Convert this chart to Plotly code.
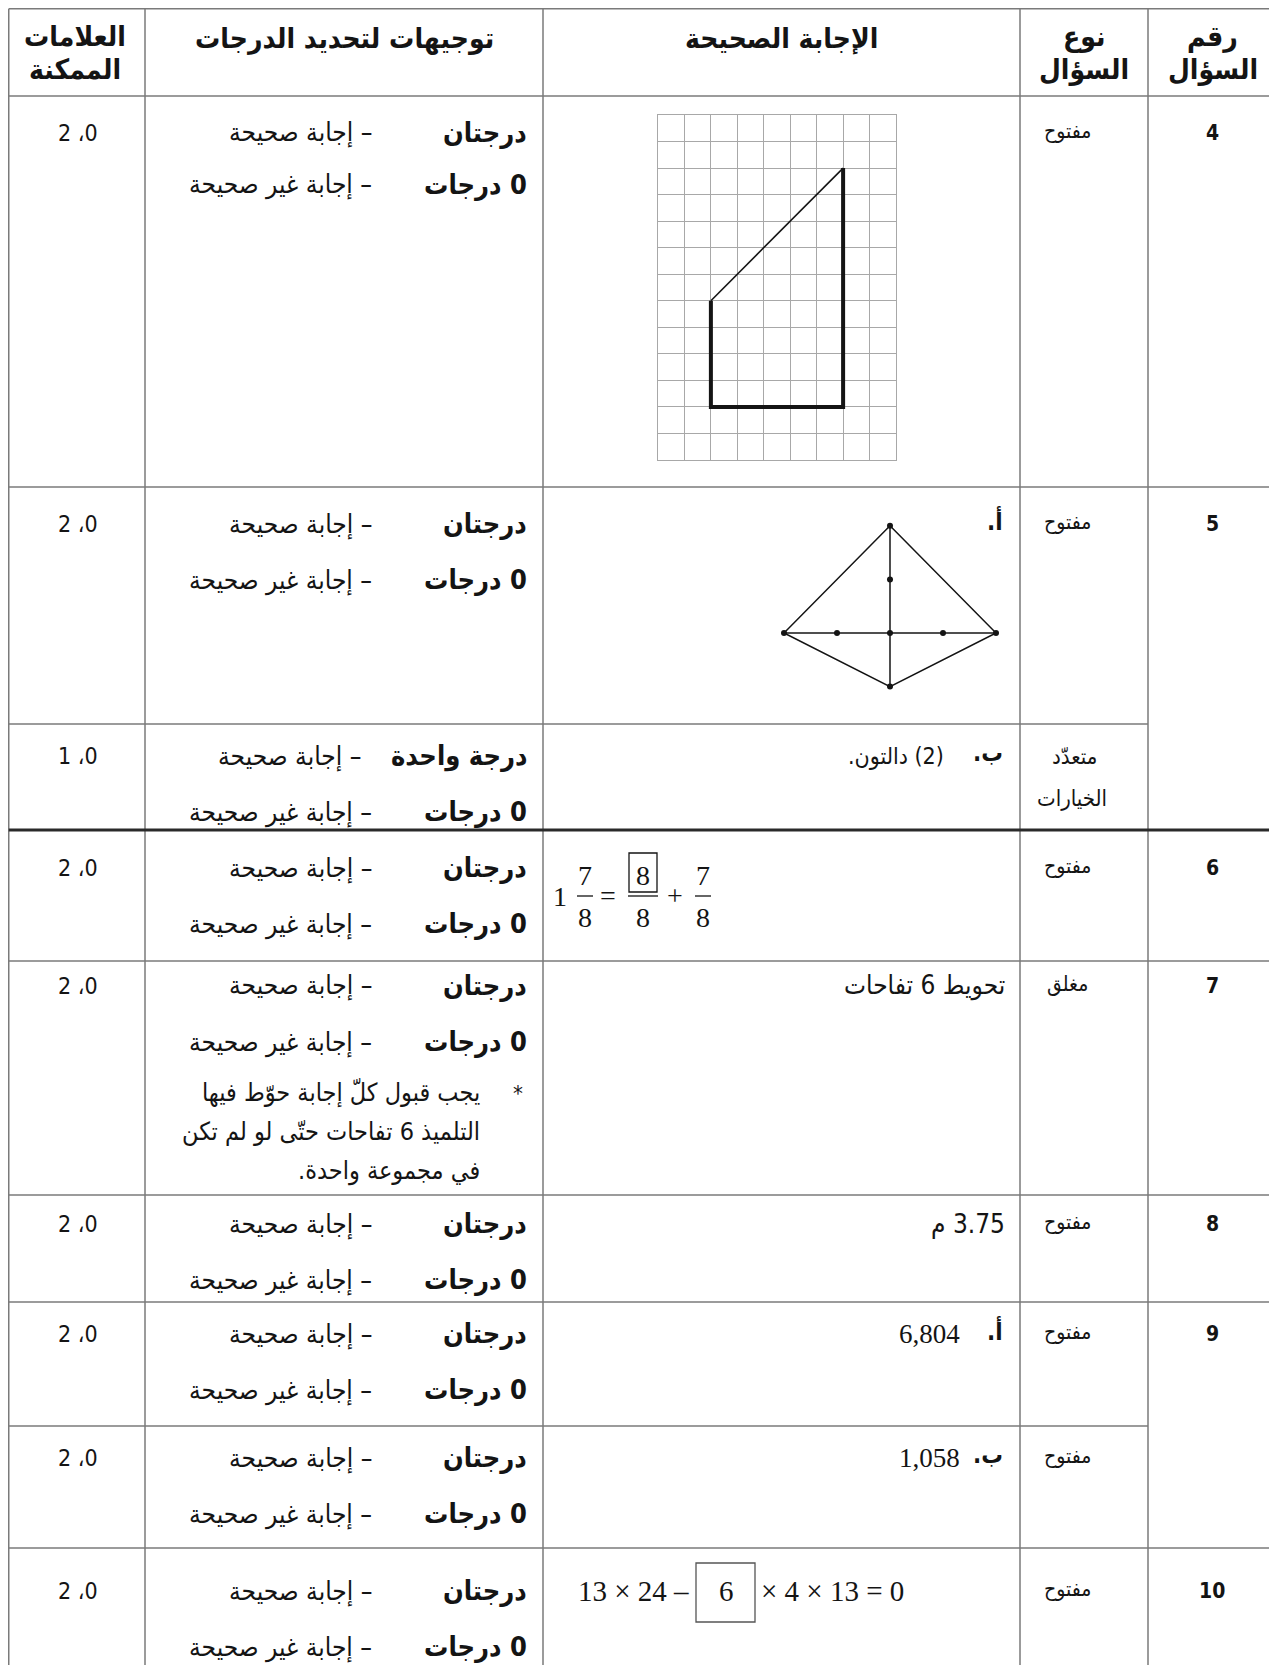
import plotly.graph_objects as go

# page is 1277x1665; the html body keeps its default 8px margin
PAGE_W, PAGE_H = 1277, 1665
OFF = 8
W, H = PAGE_W - OFF, PAGE_H - OFF

# ---- table content ----
headers = ["العلامات\nالممكنة", "توجيهات لتحديد الدرجات", "الإجابة الصحيحة", "نوع\nالسؤال", "رقم\nالسؤال"]

question_numbers = ["4", "5", "", "6", "7", "8", "9", "", "10"]
question_types = ["مفتوح", "مفتوح", "متعدّد\nالخيارات", "مفتوح", "مغلق", "مفتوح", "مفتوح", "مفتوح", "مفتوح"]
possible_marks = ["0، 2", "0، 2", "0، 1", "0، 2", "0، 2", "0، 2", "0، 2", "0، 2", "0، 2"]
full_credit = ["درجتان", "درجتان", "درجة واحدة", "درجتان", "درجتان", "درجتان", "درجتان", "درجتان", "درجتان"]
zero_credit = "0 درجات"
correct_text = "– إجابة صحيحة"
wrong_text = "– إجابة غير صحيحة"
note_lines = ["يجب قبول كلّ إجابة حوّط فيها", "التلميذ 6 تفاحات حتّى لو لم تكن", "في مجموعة واحدة."]

answer_parts = ["", "أ.", "ب.", "", "", "", "أ.", "ب.", ""]
answer_texts = ["", "", "(2) دالتون.", "", "تحويط 6 تفاحات", "3.75 م", "", "", ""]
answer_numbers = ["", "", "", "", "", "", "6,804", "1,058", ""]

# question 4 drawing (grid units)
grid_cols, grid_rows = 9, 13
shape_x = [2, 7, 7, 2]
shape_y = [6, 11, 2, 2]

# question 5a kite (grid units)
kite_x = [0, 2, 0, -2]
kite_y = [2, 0, -1, 0]
point_x = [0, 0, -2, -1, 0, 1, 2, 0]
point_y = [2, 1, 0, 0, 0, 0, 0, -1]

# question 6 equation
mixed_whole = "1"
numerators = ["7", "8", "7"]
denominators = ["8", "8", "8"]
operators = ["=", "+"]

# question 10 equation
eq10_left = "13 × 24 –"
eq10_box = "6"
eq10_right = "× 4 × 13 = 0"

# ---- layout constants (page pixels) ----
col_edges = [5, 145, 543, 1020, 1148, 1277]
row_edges = [5, 96, 487, 724, 830, 961, 1195, 1302, 1426, 1548, 1665]
text_y1 = [133, 524, 756, 868, 986, 1224, 1334, 1458, 1591]
text_y2 = [185, 580, 812, 924, 1042, 1280, 1390, 1514, 1647]

AR = "DejaVu Sans Condensed"
SERIF = "Liberation Serif"
INK = "#141414"
LINE = "#7a7a7a"
GRID = "#a8a8a8"
RLE, PDF = "\u202b", "\u202c"


def px(x):
    return max(x - OFF, 0.75) / W


def py(y):
    return 1 - max(y - OFF, 0.75) / H


fig = go.Figure()


def line(x0, y0, x1, y1, width=1.5, color=LINE):
    fig.add_shape(type="line", xref="paper", yref="paper",
                  x0=px(x0), y0=py(y0), x1=px(x1), y1=py(y1),
                  line=dict(color=color, width=width))


def text(x, y, s, size=20, bold=False, anchor="right", family=AR, rtl=True):
    s = RLE + s + PDF if rtl else s
    if bold:
        s = "<b>" + s + "</b>"
    fig.add_annotation(x=px(x), y=py(y), xref="paper", yref="paper", text=s,
                       showarrow=False, xanchor=anchor, yanchor="middle",
                       font=dict(family=family, size=size, color=INK))


# ---- table rules ----
for x in col_edges[:-1]:
    line(x, row_edges[0], x, PAGE_H)
for k, y in enumerate(row_edges[:-1]):
    # a rule above a continuation sub-row stops before the question-number column
    x_end = col_edges[4] if k >= 2 and question_numbers[k - 1] == "" else PAGE_W
    if k == 4:
        line(0, y, PAGE_W, y, 3, "#2a2a2a")
    else:
        line(col_edges[0], y, x_end, y)

# ---- header ----
centers = [(col_edges[i] + col_edges[i + 1]) / 2 for i in range(5)]
for c, h in zip(centers, headers):
    parts = h.split("\n")
    ys = [36, 70] if len(parts) == 2 else [38]
    for p, yy in zip(parts, ys):
        text(c, yy, p, size=28, bold=True, anchor="center")

# ---- body rows ----
for i in range(len(text_y1)):
    y1 = text_y1[i]
    y2 = text_y2[i]
    text(78, y1, possible_marks[i], size=23, anchor="center")
    text(529, y1, full_credit[i], size=27, bold=True)
    text(529, y2, zero_credit, size=27, bold=True)
    desc_x = 363 if full_credit[i] != "درجتان" else 374
    text(desc_x, y1, correct_text, size=26)
    text(374, y2, wrong_text, size=26)

    qt = question_types[i].split("\n")
    if len(qt) == 1:
        text(1067, y1 - 2, qt[0], size=21, anchor="center")
    else:
        text(1074, y1, qt[0], size=22, anchor="center")
        text(1072, y1 + 42, qt[1], size=22, anchor="center")
    if question_numbers[i]:
        text(1212, y1, question_numbers[i], size=21, bold=True, anchor="center", rtl=False)

    if answer_parts[i]:
        text(1005, y1 - 3, answer_parts[i], size=24, bold=True)
    if answer_texts[i]:
        if answer_parts[i]:
            text(946, y1, answer_texts[i], size=23)
        else:
            text(1007, y1, answer_texts[i], size=26)
    if answer_numbers[i]:
        text(962, y1, answer_numbers[i], size=27, anchor="right", family=SERIF, rtl=False)

# note of question 7
text(525, 1093, "*", size=22, rtl=False)
for k, s in enumerate(note_lines):
    text(482, 1093 + 39 * k, s, size=25)

# ---- question 6 equation ----
eq_y = 896
text(560, eq_y + 1, mixed_whole, size=28, anchor="center", family=SERIF, rtl=False)
frac_x = [585, 643, 703]
bar_half = [8, 15, 8]
for fx, hw, n, d in zip(frac_x, bar_half, numerators, denominators):
    text(fx, eq_y - 21, n, size=28, anchor="center", family=SERIF, rtl=False)
    text(fx, eq_y + 21, d, size=28, anchor="center", family=SERIF, rtl=False)
    line(fx - hw, eq_y, fx + hw, eq_y, 1.3, INK)
for ox, op in zip([608, 675], operators):
    text(ox, eq_y, op, size=28, anchor="center", family=SERIF, rtl=False)
fig.add_shape(type="rect", xref="paper", yref="paper", x0=px(629), x1=px(657),
              y0=py(892), y1=py(853), line=dict(color=INK, width=1.3))

# ---- question 10 equation ----
eq10_y = 1591
text(691, eq10_y, eq10_left, size=29, anchor="right", family=SERIF, rtl=False)
text(726, eq10_y, eq10_box, size=29, anchor="center", family=SERIF, rtl=False)
text(759, eq10_y, eq10_right, size=29, anchor="left", family=SERIF, rtl=False)
fig.add_shape(type="rect", xref="paper", yref="paper", x0=px(696), x1=px(755),
              y0=py(1622), y1=py(1563), line=dict(color="#555555", width=1.3))

# ---- question 4 grid drawing ----
fig.add_trace(go.Scatter(x=shape_x[:2], y=shape_y[:2], mode="lines",
                         line=dict(color=INK, width=1.6), xaxis="x2", yaxis="y2",
                         hoverinfo="skip"))
fig.add_trace(go.Scatter(x=shape_x[1:] + shape_x[:1], y=shape_y[1:] + shape_y[:1], mode="lines",
                         line=dict(color=INK, width=4), xaxis="x2", yaxis="y2",
                         hoverinfo="skip"))

# ---- question 5 kite ----
kx = kite_x + kite_x[:1] + [None, kite_x[0], kite_x[2], None, kite_x[1], kite_x[3]]
ky = kite_y + kite_y[:1] + [None, kite_y[0], kite_y[2], None, kite_y[1], kite_y[3]]
fig.add_trace(go.Scatter(x=kx, y=ky, mode="lines", line=dict(color=INK, width=1.5),
                         xaxis="x3", yaxis="y3", hoverinfo="skip"))
fig.add_trace(go.Scatter(x=point_x, y=point_y, mode="markers",
                         marker=dict(color=INK, size=6), xaxis="x3", yaxis="y3",
                         hoverinfo="skip"))

grid_axis = dict(showgrid=True, gridcolor=GRID, gridwidth=1, tick0=0, dtick=1,
                 showticklabels=False, ticks="", zeroline=False, showline=True,
                 mirror=True, linecolor=GRID, linewidth=1, fixedrange=True)
ux, uy = 53, 53.6
kcx, kcy = 890, 633

fig.update_layout(
    width=W,
    height=H,
    margin=dict(l=0, r=0, t=0, b=0),
    paper_bgcolor="white",
    plot_bgcolor="rgba(0,0,0,0)",
    showlegend=False,
    xaxis=dict(visible=False, domain=[0, 1]),
    yaxis=dict(visible=False, domain=[0, 1]),
    xaxis2=dict(grid_axis, domain=[px(658), px(896)], range=[0, grid_cols], anchor="y2"),
    yaxis2=dict(grid_axis, domain=[py(460), py(115)], range=[0, grid_rows], anchor="x2"),
    xaxis3=dict(visible=False, domain=[px(kcx - 2.3 * ux), px(kcx + 2.3 * ux)],
                range=[-2.3, 2.3], anchor="y3", fixedrange=True),
    yaxis3=dict(visible=False, domain=[py(kcy + 1.3 * uy), py(kcy - 2.3 * uy)],
                range=[-1.3, 2.3], anchor="x3", fixedrange=True),
)

fig.write_html("out.html")
